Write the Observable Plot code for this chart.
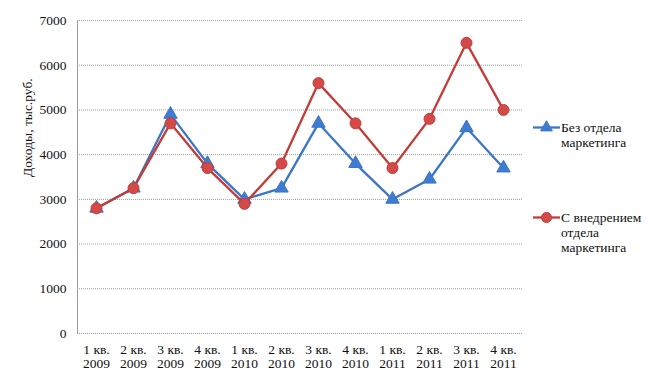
<!DOCTYPE html>
<html>
<head>
<meta charset="utf-8">
<script src="https://cdn.jsdelivr.net/npm/d3@7"></script>
<script src="https://cdn.jsdelivr.net/npm/@observablehq/plot@0.6"></script>
<style>
  body { margin: 0; background: #fff; }
  #wrap { position: relative; width: 652px; height: 392px; }
  .leg { position: absolute; left: 533px; font-family: 'Liberation Serif', serif; font-size: 13.5px; color: #111; line-height: 15px; }
  .leg svg { position: absolute; left: 0; top: 0; }
  .leg div { margin-left: 28px; font-family: 'Liberation Serif', serif; }
</style>
</head>
<body>
<div id="wrap"></div>
<script>
const quarters = ["1 кв.\n2009","2 кв.\n2009","3 кв.\n2009","4 кв.\n2009",
                  "1 кв.\n2010","2 кв.\n2010","3 кв.\n2010","4 кв.\n2010",
                  "1 кв.\n2011","2 кв.\n2011","3 кв.\n2011","4 кв.\n2011"];
const seriesNames = ["Без отдела маркетинга", "С внедрением отдела маркетинга"];
const withoutMarketing = [2800, 3250, 4900, 3800, 3000, 3250, 4700, 3800, 3000, 3450, 4600, 3700];
const withMarketing    = [2800, 3250, 4700, 3700, 2900, 3800, 5600, 4700, 3700, 4800, 6500, 5000];
const yTicks = [0, 1000, 2000, 3000, 4000, 5000, 6000, 7000];
const yLabel = "Доходы, тыс.руб.";

const blue = "#3c76c6", blueFill = "#3f7bd0";
const red = "#c43c38", redFill = "#d44a48";

const dataA = quarters.map((q, i) => ({q, v: withoutMarketing[i]}));
const dataB = quarters.map((q, i) => ({q, v: withMarketing[i]}));

const chart = Plot.plot({
  width: 652,
  height: 392,
  marginLeft: 77,
  marginRight: 130,
  marginTop: 20,
  marginBottom: 59,
  style: {fontFamily: "'Liberation Serif', serif", fontSize: "13.5px", color: "#111", background: "#fff"},
  x: {type: "point", domain: quarters, padding: 0.5, label: null},
  y: {domain: [0, 7000], label: null},
  marks: [
    Plot.gridY(yTicks, {stroke: "#9a9a9a", strokeOpacity: 1, strokeDasharray: "1,1"}),
    Plot.frame({anchor: "left", stroke: "#9a9a9a", strokeDasharray: "1,1"}),
    Plot.axisY(yTicks, {tickSize: 0, tickPadding: 11, tickFormat: d => String(d), fill: "#111", fontFamily: "'Liberation Serif', serif"}),
    Plot.axisX({tickSize: 0, tickPadding: 10, fill: "#111", lineHeight: 1.05, fontFamily: "'Liberation Serif', serif"}),
    Plot.text([yLabel], {frameAnchor: "left", dx: -50, rotate: -90, fill: "#111"}),
    Plot.line(dataA, {x: "q", y: "v", stroke: blue, strokeWidth: 2.3}),
    Plot.dot(dataA, {x: "q", y: "v", symbol: "triangle", r: 5, fill: blueFill, stroke: blue, strokeWidth: 1}),
    Plot.line(dataB, {x: "q", y: "v", stroke: red, strokeWidth: 2.3}),
    Plot.dot(dataB, {x: "q", y: "v", symbol: "circle", r: 5.5, fill: redFill, stroke: red, strokeWidth: 1})
  ]
});

const wrap = document.getElementById("wrap");
wrap.appendChild(chart);

function legendItem(top, color, fill, symbol, text) {
  const d = document.createElement("div");
  d.className = "leg";
  d.style.top = top + "px";
  const sw = d3.create("svg").attr("width", 28).attr("height", 15);
  sw.append("line").attr("x1", 0).attr("x2", 27).attr("y1", 7.5).attr("y2", 7.5)
    .attr("stroke", color).attr("stroke-width", 2.3);
  sw.append("path").attr("transform", "translate(13.5,7.5)")
    .attr("d", d3.symbol(symbol === "triangle" ? d3.symbolTriangle : d3.symbolCircle, symbol === "triangle" ? 60 : 80)())
    .attr("fill", fill).attr("stroke", color);
  d.appendChild(sw.node());
  const t = document.createElement("div");
  t.innerHTML = text;
  d.appendChild(t);
  wrap.appendChild(d);
}
legendItem(120, blue, blueFill, "triangle", "Без отдела<br>маркетинга");
legendItem(210, red, redFill, "circle", "С внедрением<br>отдела<br>маркетинга");
</script>
</body>
</html>
